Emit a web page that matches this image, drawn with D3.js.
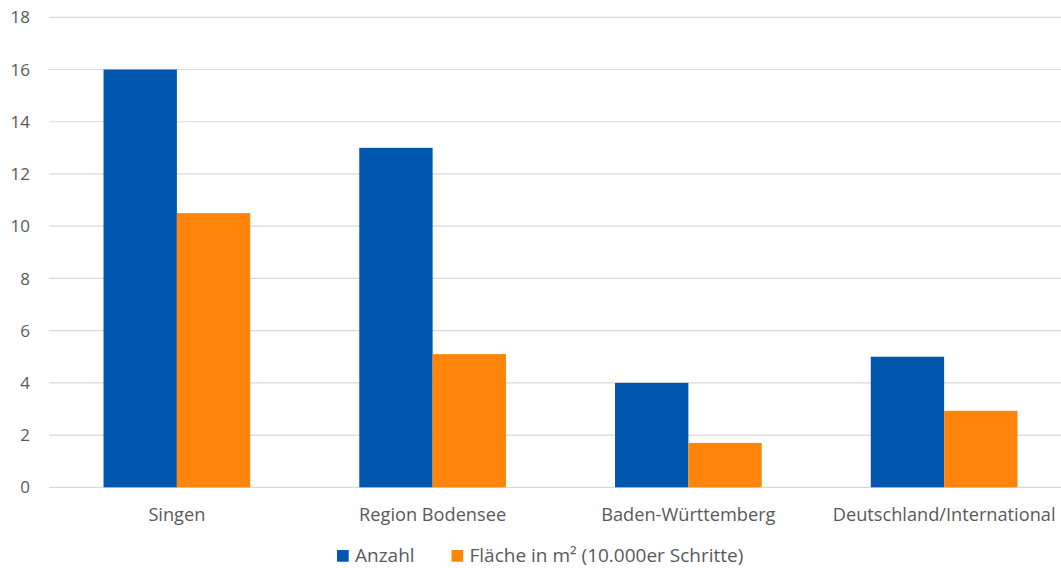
<!DOCTYPE html>
<html><head><meta charset="utf-8">
<script src="https://cdn.jsdelivr.net/npm/d3@7"></script>
<style>body{margin:0;background:#fff;} svg{display:block;}</style>
</head><body>
<svg id="c" width="1061" height="568"></svg>
<script>
const categories = ["Singen", "Region Bodensee", "Baden-Württemberg", "Deutschland/International"];
const anzahl = [16, 13, 4, 5];
const flaeche = [10.5, 5.1, 1.7, 2.93];
const seriesNames = ["Anzahl", "Fläche in m² (10.000er Schritte)"];
const yTicks = [0, 2, 4, 6, 8, 10, 12, 14, 16, 18];
const colors = ["#0156AE", "#FF850A"];

const svg = d3.select("#c");
const font = "Open Sans, Liberation Sans, sans-serif";
const x = d3.scaleBand().domain(categories).range([49, 1072]).paddingInner(0).paddingOuter(0);
const y = d3.scaleLinear().domain([0, 18]).range([487.3, 17.3]);
const barW = x.bandwidth() * 0.2868;

// gridlines
svg.append("g").selectAll("line").data(yTicks).join("line")
  .attr("x1", 49).attr("x2", 1061)
  .attr("y1", d => y(d)).attr("y2", d => y(d))
  .attr("stroke", "#D9D9D9").attr("stroke-width", 1.2);

// y tick labels
svg.append("g").selectAll("text").data(yTicks).join("text")
  .attr("x", 30).attr("y", d => y(d)).attr("dy", "0.36em")
  .attr("text-anchor", "end").attr("font-family", font).attr("font-size", 17)
  .attr("fill", "#595959").text(d => d);

const series = [anzahl, flaeche];
series.forEach((vals, si) => {
  svg.append("g").selectAll("rect").data(vals).join("rect")
    .attr("x", (d, i) => x(categories[i]) + x.bandwidth() / 2 + (si - 1) * barW)
    .attr("width", barW)
    .attr("y", d => y(d))
    .attr("height", d => y(0) - y(d))
    .attr("fill", colors[si]);
});

// category labels
svg.append("g").selectAll("text").data(categories).join("text")
  .attr("x", d => x(d) + x.bandwidth() / 2).attr("y", 521)
  .attr("text-anchor", "middle").attr("font-family", font).attr("font-size", 18.2)
  .attr("fill", "#595959").text(d => d);

// legend
const leg = [{x: 337, tx: 355}, {x: 451.5, tx: 469.5}];
seriesNames.forEach((n, i) => {
  svg.append("rect").attr("x", leg[i].x).attr("y", 550).attr("width", 11.7).attr("height", 11.7).attr("fill", colors[i]);
  svg.append("text").attr("x", leg[i].tx).attr("y", 562).attr("font-family", font).attr("font-size", 19)
    .attr("fill", "#595959").text(n);
});
</script>
</body></html>
